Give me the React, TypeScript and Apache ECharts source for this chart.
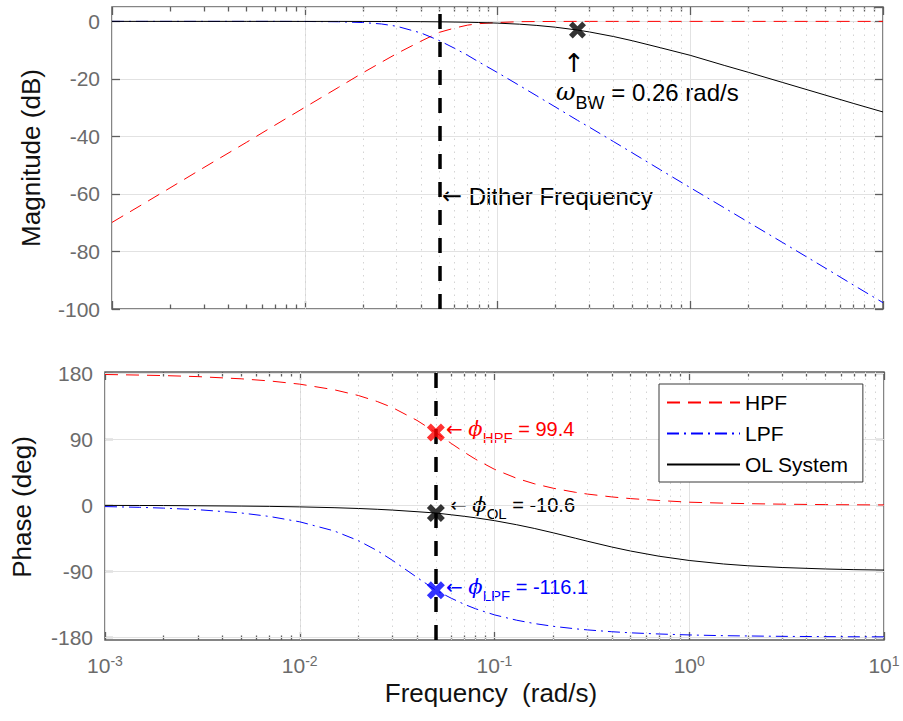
import React, { useEffect, useRef } from 'react';
import * as echarts from 'echarts';

// ---------- data ----------
const FREQ = [0.001, 0.0015, 0.002, 0.003, 0.005, 0.007, 0.01, 0.015, 0.02, 0.025, 0.03, 0.04, 0.05, 0.06, 0.07, 0.08, 0.1, 0.13, 0.16, 0.2, 0.26, 0.3, 0.4, 0.5, 0.7, 1, 1.5, 2, 3, 5, 7, 10];

const HPF_MAG = [-69.9, -62.9, -57.9, -50.8, -42.0, -36.1, -29.9, -22.9, -17.9, -14.2, -11.2, -6.9, -3.8, -2.3, -1.3, -0.8, -0.4, -0.1, -0.06, -0.03, 0, 0, 0, 0, 0, 0, 0, 0, 0, 0, 0, 0];
const LPF_MAG = [0, 0, 0, 0, 0, 0, -0.03, -0.13, -0.4, -0.9, -1.7, -4.0, -6.7, -9.4, -11.8, -14.1, -17.8, -22.3, -25.9, -29.8, -34.4, -36.8, -41.8, -45.7, -51.6, -57.8, -64.8, -69.8, -76.8, -85.7, -91.6, -97.8];
const OL_MAG = [0, 0, 0, 0, 0, 0, -0.01, -0.01, -0.03, -0.04, -0.06, -0.1, -0.16, -0.23, -0.3, -0.39, -0.61, -0.97, -1.41, -2.03, -3.01, -3.68, -5.27, -6.72, -9.16, -11.8, -15.3, -17.7, -21.2, -25.6, -28.5, -31.5];

const HPF_PHASE = [178.6, 177.8, 177.1, 175.7, 172.7, 169.8, 165.4, 157.8, 149.9, 141.7, 133.3, 115.9, 99.4, 84.4, 72.4, 62.8, 49.1, 36.8, 29.4, 23.3, 17.7, 15.3, 11.4, 9.1, 6.5, 4.2, 2.9, 2.2, 1.5, 0.9, 0.65, 0.45];
const LPF_PHASE = [-1.8, -2.8, -3.9, -6.0, -10.5, -15.3, -22.6, -35.0, -48.3, -62.0, -75.4, -98.5, -116.1, -127.0, -135.3, -141.4, -149.7, -157.0, -161.5, -165.3, -168.7, -170.2, -172.7, -174.2, -175.8, -177.1, -178.1, -178.5, -179.0, -179.4, -179.6, -179.7];
const OL_PHASE = [-0.2, -0.3, -0.4, -0.7, -1.1, -1.5, -2.2, -3.3, -4.4, -5.5, -6.6, -8.8, -10.6, -13.0, -15.1, -17.1, -21.0, -26.6, -31.6, -37.6, -45.0, -49.1, -57.0, -62.5, -69.6, -75.4, -80.2, -82.6, -85.0, -87.0, -87.9, -88.5];

const DITHER_FREQ = [0.05];
const BW_POINT = [0.26, -3];
const BW_TEXT = '0.26 rad/s';
const DITHER_PHASES = [99.4, -10.6, -116.1]; // HPF, OL, LPF

const X_MINOR = [0.002, 0.003, 0.004, 0.005, 0.006, 0.007, 0.008, 0.009, 0.02, 0.03, 0.04, 0.05, 0.06, 0.07, 0.08, 0.09, 0.2, 0.3, 0.4, 0.5, 0.6, 0.7, 0.8, 0.9, 2, 3, 4, 5, 6, 7, 8, 9];
const PHASE_TICKS = [-180, -90, 0, 90, 180];
const LEGEND_NAMES = ['HPF', 'LPF', 'OL System'];

// ---------- styles ----------
const FONT = "'Liberation Sans', Arial, Helvetica, sans-serif";
const SYMFONT = "'DejaVu Sans', sans-serif";
const GREEK = "'DejaVu Serif', serif";
const RED = '#ff0000';
const BLUE = '#0000ff';
const BLACK = '#000000';
const AXIS_COLOR = '#5e5e5e';
const LABEL_COLOR = '#6b6b6b';
const GRID_COLOR = '#e2e2e2';
const MINOR_COLOR = '#d4d4d4';
const X_MARK = 'path://M2.2,0L5,2.8L7.8,0L10,2.2L7.2,5L10,7.8L7.8,10L5,7.2L2.2,10L0,7.8L2.8,5L0,2.2Z';

const HPF_STYLE = { color: RED, width: 1, type: [13, 8] };
const LPF_STYLE = { color: BLUE, width: 1, type: [12, 5, 2, 5] };
const OL_STYLE = { color: BLACK, width: 1, type: 'solid' };

const pairs = (ys: number[]) => FREQ.map((f, i) => [f, ys[i]]);

function makeXAxes(gridIndex: number, withLabels: boolean) {
  const base: any = {
    type: 'log',
    logBase: 10,
    min: 0.001,
    max: 10,
    gridIndex,
    axisLine: { show: false, onZero: false },
    axisLabel: { show: false },
    splitLine: { show: false },
    axisTick: { show: false },
  };
  const major = { show: true, inside: true, length: 8, lineStyle: { color: AXIS_COLOR, width: 1.3 } };
  const minor = { show: true, inside: true, length: 4.5, customValues: X_MINOR, lineStyle: { color: AXIS_COLOR, width: 1.3 } };
  return [
    {
      ...base,
      position: 'bottom',
      splitLine: { show: true, lineStyle: { color: GRID_COLOR, width: 1 } },
      axisTick: major,
      axisLabel: withLabels
        ? {
            show: true,
            margin: 14,
            formatter: (v: number) => `{b|10}{e|${Math.round(Math.log10(v))}}`,
            rich: {
              b: { fontSize: 21, color: LABEL_COLOR, fontFamily: FONT },
              e: { fontSize: 14, color: LABEL_COLOR, fontFamily: FONT, padding: [0, 0, 8, 0] },
            },
          }
        : { show: false },
    },
    { ...base, position: 'top', axisTick: major },
    { ...base, position: 'bottom', axisTick: minor },
    { ...base, position: 'top', axisTick: minor },
  ];
}

function phaseLabel(x: number, y: number, sub: string, value: number, color: string) {
  return {
    type: 'text',
    x,
    y,
    style: {
      text: `{a|\u2190} {p|\u03d5}{s|${sub}}{t| = ${value}}`,
      fill: color,
      fontSize: 20,
      fontFamily: FONT,
      align: 'left',
      verticalAlign: 'middle',
      rich: {
        a: { fontSize: 20, fontFamily: SYMFONT, fill: color },
        p: { fontSize: 21, fontFamily: GREEK, fontStyle: 'italic', fill: color },
        s: { fontSize: 15, fontFamily: FONT, fill: color, padding: [16, 0, 0, 0] },
        t: { fontSize: 20, fontFamily: FONT, fill: color },
      },
    },
  };
}

export default function App() {
  const ref = useRef<HTMLDivElement>(null);

  useEffect(() => {
    if (!ref.current) return;
    const chart = echarts.init(ref.current, undefined, { renderer: 'svg' });

    const markBase = {
      silent: true,
      z: 1,
      symbol: ['none', 'none'],
      label: { show: false },
      emphasis: { disabled: true },
    };

    const gridLines = (xAxisIndex: number, yAxisIndex: number, data: any[], lineStyle: any) => ({
      type: 'line',
      xAxisIndex,
      yAxisIndex,
      data: [],
      silent: true,
      z: 1,
      markLine: { ...markBase, lineStyle, data },
    });

    const ditherLine = (xAxisIndex: number, yAxisIndex: number) => ({
      type: 'line',
      xAxisIndex,
      yAxisIndex,
      data: [],
      silent: true,
      markLine: {
        ...markBase,
        z: 6,
        lineStyle: { color: BLACK, width: 3.5, type: [15, 13] },
        data: DITHER_FREQ.map((f) => ({ xAxis: f })),
      },
    });

    const curve = (name: string, ys: number[], lineStyle: any, xAxisIndex: number, yAxisIndex: number) => ({
      name,
      type: 'line',
      xAxisIndex,
      yAxisIndex,
      data: pairs(ys),
      symbol: 'none',
      showSymbol: false,
      smooth: false,
      lineStyle,
      itemStyle: { color: lineStyle.color },
      z: 3,
    });

    const marker = (name: string, point: number[], color: string, xAxisIndex: number, yAxisIndex: number, size: number) => ({
      name,
      type: 'scatter',
      xAxisIndex,
      yAxisIndex,
      data: [point],
      symbol: X_MARK,
      symbolSize: size,
      itemStyle: { color },
      z: 8,
      silent: true,
    });

    const minorStyle = { color: MINOR_COLOR, width: 1, type: [1.5, 5] };
    const majorStyle = { color: GRID_COLOR, width: 1, type: 'solid' };

    const option: any = {
      animation: false,
      backgroundColor: '#ffffff',
      textStyle: { fontFamily: FONT },
      grid: [
        { left: 112, top: 7, width: 771, height: 302, show: true, borderColor: AXIS_COLOR, borderWidth: 1.5, backgroundColor: 'transparent', outerBoundsMode: 'none', containLabel: false },
        { left: 105, top: 372, width: 779, height: 268, show: true, borderColor: AXIS_COLOR, borderWidth: 1.5, backgroundColor: 'transparent', outerBoundsMode: 'none', containLabel: false },
      ],
      xAxis: [...makeXAxes(0, false), ...makeXAxes(1, true)],
      yAxis: [
        {
          type: 'value', gridIndex: 0, position: 'left', min: -100, max: 5, interval: 20,
          axisLine: { show: false, onZero: false },
          axisTick: { show: true, inside: true, length: 8, lineStyle: { color: AXIS_COLOR, width: 1.3 } },
          axisLabel: { margin: 12, fontSize: 21, color: LABEL_COLOR, fontFamily: FONT, showMaxLabel: false },
          splitLine: { show: true, lineStyle: { color: GRID_COLOR, width: 1 } },
        },
        {
          type: 'value', gridIndex: 0, position: 'right', min: -100, max: 5, interval: 20,
          axisLine: { show: false, onZero: false },
          axisTick: { show: true, inside: true, length: 8, lineStyle: { color: AXIS_COLOR, width: 1.3 } },
          axisLabel: { show: false },
          splitLine: { show: false },
        },
        {
          type: 'value', gridIndex: 1, position: 'left', min: -184, max: 182,
          axisLine: { show: false, onZero: false },
          axisTick: { show: true, inside: true, length: 8, customValues: PHASE_TICKS, lineStyle: { color: AXIS_COLOR, width: 1.3 } },
          axisLabel: { margin: 12, fontSize: 21, color: LABEL_COLOR, fontFamily: FONT, customValues: PHASE_TICKS },
          splitLine: { show: false },
        },
        {
          type: 'value', gridIndex: 1, position: 'right', min: -184, max: 182,
          axisLine: { show: false, onZero: false },
          axisTick: { show: true, inside: true, length: 8, customValues: PHASE_TICKS, lineStyle: { color: AXIS_COLOR, width: 1.3 } },
          axisLabel: { show: false },
          splitLine: { show: false },
        },
      ],
      legend: {
        data: LEGEND_NAMES,
        orient: 'vertical',
        left: 659,
        top: 384,
        itemWidth: 73,
        itemHeight: 20,
        itemGap: 10,
        padding: [8, 14, 7, 7],
        backgroundColor: '#ffffff',
        borderColor: '#3a3a3a',
        borderWidth: 1,
        selectedMode: false,
        itemStyle: { opacity: 0, borderWidth: 0 },
        textStyle: { fontSize: 21, color: BLACK, fontFamily: FONT },
      },
      series: [
        // top panel
        gridLines(0, 0, X_MINOR.map((v) => ({ xAxis: v })), minorStyle),
        curve('HPF', HPF_MAG, HPF_STYLE, 0, 0),
        curve('LPF', LPF_MAG, LPF_STYLE, 0, 0),
        curve('OL System', OL_MAG, OL_STYLE, 0, 0),
        ditherLine(0, 0),
        marker('BW', BW_POINT, BLACK, 0, 0, 17),

        // bottom panel
        gridLines(4, 2, X_MINOR.map((v) => ({ xAxis: v })), minorStyle),
        gridLines(4, 2, PHASE_TICKS.map((v) => ({ yAxis: v })), majorStyle),
        curve('HPF', HPF_PHASE, HPF_STYLE, 4, 2),
        curve('LPF', LPF_PHASE, LPF_STYLE, 4, 2),
        curve('OL System', OL_PHASE, OL_STYLE, 4, 2),
        ditherLine(4, 2),
        marker('HPF@dither', [DITHER_FREQ[0], DITHER_PHASES[0]], RED, 4, 2, 18),
        marker('OL@dither', [DITHER_FREQ[0], DITHER_PHASES[1]], BLACK, 4, 2, 18),
        marker('LPF@dither', [DITHER_FREQ[0], DITHER_PHASES[2]], BLUE, 4, 2, 18),
      ],
      graphic: [
        { type: 'text', x: 31, y: 158, rotation: Math.PI / 2, style: { text: 'Magnitude (dB)', fontSize: 26, fontFamily: FONT, fill: '#111', align: 'center', verticalAlign: 'middle' } },
        { type: 'text', x: 22, y: 507, rotation: Math.PI / 2, style: { text: 'Phase (deg)', fontSize: 26, fontFamily: FONT, fill: '#111', align: 'center', verticalAlign: 'middle' } },
        { type: 'text', x: 491, y: 693, style: { text: 'Frequency  (rad/s)', fontSize: 26, lineHeight: 20, fontFamily: FONT, fill: '#111', align: 'center', verticalAlign: 'middle' } },
        { type: 'text', x: 574, y: 63, style: { text: '\u2191', fontSize: 26, fontFamily: SYMFONT, fill: BLACK, align: 'center', verticalAlign: 'middle' } },
        {
          type: 'text', x: 556, y: 92,
          style: {
            text: `{w|\u03c9}{s|BW}{t| = ${BW_TEXT}}`,
            fill: BLACK, fontSize: 24, fontFamily: FONT, align: 'left', verticalAlign: 'middle',
            rich: {
              w: { fontSize: 24, fontFamily: GREEK, fontStyle: 'italic', fill: BLACK },
              s: { fontSize: 18, fontFamily: FONT, fill: BLACK, padding: [22, 0, 0, 0] },
              t: { fontSize: 24, fontFamily: FONT, fill: BLACK },
            },
          },
        },
        {
          type: 'text', x: 442, y: 196,
          style: {
            text: '{a|\u2190} {t|Dither Frequency}',
            fill: BLACK, fontSize: 24, fontFamily: FONT, align: 'left', verticalAlign: 'middle',
            rich: {
              a: { fontSize: 24, fontFamily: SYMFONT, fill: BLACK },
              t: { fontSize: 24, fontFamily: FONT, fill: BLACK },
            },
          },
        },
        phaseLabel(446, 429, 'HPF', DITHER_PHASES[0], RED),
        phaseLabel(450, 505, 'OL', DITHER_PHASES[1], BLACK),
        phaseLabel(446, 587, 'LPF', DITHER_PHASES[2], BLUE),
      ],
    };

    chart.setOption(option);
    return () => chart.dispose();
  }, []);

  return <div ref={ref} style={{ position: 'absolute', left: 0, top: 0, width: 903, height: 721 }} />;
}
